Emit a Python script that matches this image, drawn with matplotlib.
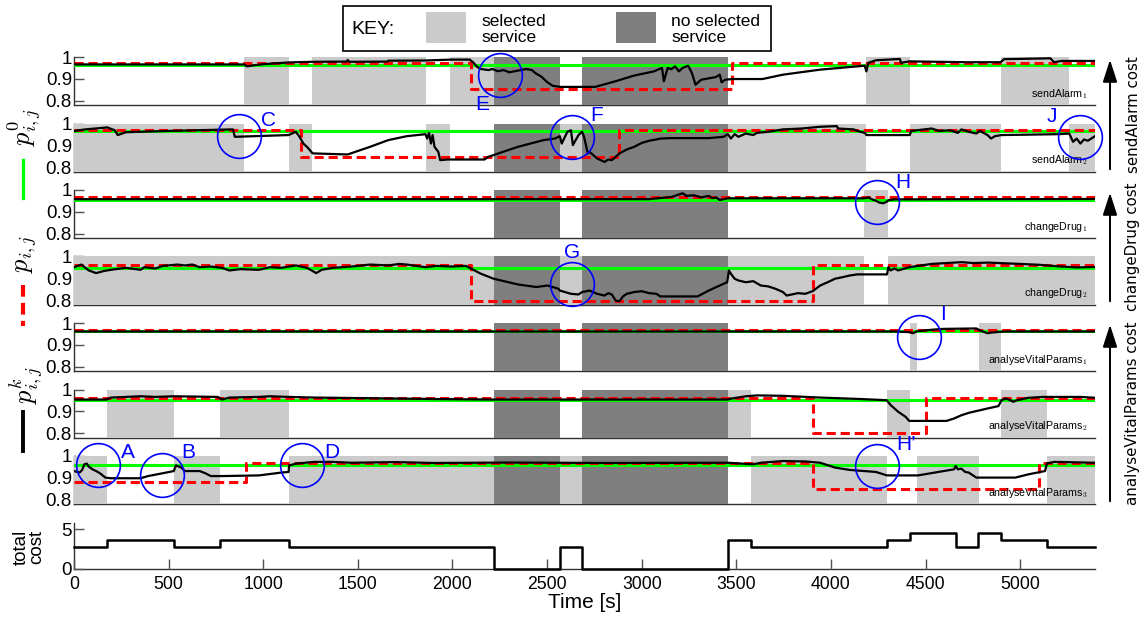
import matplotlib
matplotlib.use("Agg")
import matplotlib.pyplot as plt
from matplotlib.lines import Line2D
from matplotlib.patches import Rectangle, FancyArrowPatch

plt.rcParams['font.family'] = ['Liberation Sans', 'DejaVu Sans']
plt.rcParams['mathtext.fontset'] = 'cm'

W, H = 1143, 621
T_END = 5395

# periods with no selected service (total cost drops to 0)
no_service = [(2218, 2570), (2685, 3455)]

# periods where each concrete service is the selected one
sel_sendAlarm1 = [(899, 1134), (1257, 1860), (1989, 2218), (4184, 4415), (4897, 5258)]
sel_sendAlarm2 = [(0, 899), (1134, 1257), (1860, 1989), (2570, 2685), (3455, 4184),
                  (4415, 4897), (5258, T_END)]
sel_changeDrug1 = [(4177, 4303)]
sel_changeDrug2 = [(0, 2218), (2570, 2685), (3455, 4177), (4303, T_END)]
sel_analyse1 = [(4415, 4457), (4780, 4900)]
sel_analyse2 = [(172, 531), (774, 1134), (3455, 3575), (4294, 4415), (4900, 5140)]
sel_analyse3 = [(0, 172), (531, 774), (1134, 2218), (2570, 2685), (3575, 4294),
                (4457, 4780), (5140, T_END)]

# p0 (green, initial reliability)
p0_values = [0.965, 0.965, 0.955, 0.948, 0.962, 0.951, 0.959]

# p_ij (red dashed, required reliability) as (time, value) steps
req_sendAlarm1 = [(0, 0.972), (2100, 0.853), (3478, 0.972), (T_END, 0.972)]
req_sendAlarm2 = [(0, 0.972), (1202, 0.848), (2882, 0.972), (T_END, 0.972)]
req_changeDrug1 = [(0, 0.968), (T_END, 0.968)]
req_changeDrug2 = [(0, 0.959), (2100, 0.798), (3903, 0.959), (T_END, 0.959)]
req_analyse1 = [(0, 0.970), (T_END, 0.970)]
req_analyse2 = [(0, 0.963), (3903, 0.800), (4502, 0.963), (T_END, 0.963)]
req_analyse3 = [(0, 0.882), (909, 0.969), (3903, 0.847), (5100, 0.969), (T_END, 0.969)]

# pk_ij (black, estimated reliability)
est_sendAlarm1 = [
    (0, 0.966), (899, 0.966), (915, 0.957), (950, 0.962), (1000, 0.967), (1134, 0.975),
    (1256, 0.978), (1440, 0.979), (1446, 0.986), (1456, 0.978), (1655, 0.979), (1661, 0.983),
    (1860, 0.984), (1989, 0.988), (2091, 0.988), (2110, 0.975), (2130, 0.955), (2150, 0.945),
    (2190, 0.94), (2210, 0.945), (2240, 0.935), (2270, 0.94), (2300, 0.93), (2330, 0.935),
    (2360, 0.94), (2390, 0.945), (2420, 0.94), (2440, 0.925), (2470, 0.91), (2500, 0.885),
    (2530, 0.868), (2570, 0.863), (2754, 0.863), (2862, 0.889), (2960, 0.915), (3064, 0.934),
    (3107, 0.95), (3117, 0.889), (3137, 0.95), (3156, 0.944), (3176, 0.957), (3196, 0.934),
    (3216, 0.95), (3245, 0.96), (3265, 0.927), (3284, 0.873), (3314, 0.896), (3392, 0.908),
    (3412, 0.919), (3422, 0.884), (3441, 0.896), (3481, 0.899), (3638, 0.899), (3746, 0.919),
    (3942, 0.942), (4138, 0.957), (4178, 0.96), (4187, 0.934), (4197, 0.973), (4237, 0.985),
    (4364, 0.991), (4370, 0.973), (4413, 0.98), (4727, 0.976), (4896, 0.976), (4914, 0.99),
    (5159, 0.994), (5179, 0.976), (5219, 0.982), (T_END, 0.982)]
est_sendAlarm2 = [
    (0, 0.966), (59, 0.973), (176, 0.982), (215, 0.969), (231, 0.947), (274, 0.96),
    (500, 0.966), (840, 0.973), (850, 0.939), (1134, 0.947), (1172, 0.962), (1192, 0.939),
    (1212, 0.908), (1231, 0.893), (1261, 0.863), (1446, 0.858), (1564, 0.893), (1661, 0.924),
    (1759, 0.942), (1857, 0.951), (1866, 0.931), (1876, 0.957), (1886, 0.908), (1895, 0.947),
    (1905, 0.893), (1925, 0.870), (1935, 0.832), (1974, 0.835), (2169, 0.835), (2189, 0.847),
    (2345, 0.893), (2482, 0.924), (2541, 0.931), (2567, 0.942), (2577, 0.908), (2607, 0.962),
    (2626, 0.969), (2636, 0.901), (2666, 0.947), (2685, 0.962), (2695, 0.939), (2715, 0.863),
    (2724, 0.870), (2744, 0.855), (2764, 0.840), (2783, 0.832), (2803, 0.824), (2823, 0.835),
    (2842, 0.832), (2862, 0.847), (2882, 0.863), (2921, 0.881), (2960, 0.893), (3000, 0.911),
    (3039, 0.921), (3078, 0.927), (3098, 0.931), (3157, 0.933), (3354, 0.933), (3432, 0.939),
    (3455, 0.951), (3471, 0.931), (3491, 0.951), (3511, 0.939), (3550, 0.954), (3589, 0.947),
    (3609, 0.957), (3668, 0.962), (3746, 0.973), (3845, 0.977), (3943, 0.985), (4031, 0.988),
    (4037, 0.977), (4120, 0.973), (4139, 0.966), (4178, 0.957), (4188, 0.947), (4416, 0.947),
    (4424, 0.966), (4532, 0.977), (4571, 0.966), (4630, 0.969), (4670, 0.957), (4689, 0.973),
    (4728, 0.962), (4768, 0.954), (4787, 0.966), (4827, 0.947), (4846, 0.931), (4866, 0.942),
    (4901, 0.947), (5200, 0.951), (5259, 0.954), (5279, 0.916), (5298, 0.931), (5318, 0.908),
    (5337, 0.927), (5357, 0.921), (T_END, 0.942)]
est_changeDrug1 = [
    (0, 0.958), (3039, 0.958), (3157, 0.968), (3216, 0.985), (3236, 0.973), (3275, 0.976),
    (3314, 0.966), (3354, 0.973), (3373, 0.962), (3393, 0.966), (3412, 0.954), (3455, 0.962),
    (4178, 0.962), (4197, 0.966), (4217, 0.957), (4237, 0.951), (4256, 0.942), (4276, 0.939),
    (4296, 0.947), (4305, 0.954), (4335, 0.957), (T_END, 0.959)]
est_changeDrug2 = [
    (0, 0.951), (39, 0.963), (78, 0.936), (117, 0.924), (156, 0.933), (195, 0.939),
    (274, 0.948), (352, 0.939), (371, 0.951), (430, 0.945), (469, 0.957), (547, 0.963),
    (586, 0.959), (625, 0.963), (664, 0.951), (723, 0.954), (782, 0.948), (821, 0.936),
    (880, 0.942), (977, 0.939), (1036, 0.951), (1095, 0.948), (1173, 0.959), (1231, 0.948),
    (1280, 0.924), (1309, 0.939), (1368, 0.948), (1466, 0.954), (1564, 0.963), (1661, 0.959),
    (1720, 0.966), (1759, 0.963), (1857, 0.951), (1915, 0.957), (1993, 0.954), (2071, 0.957),
    (2110, 0.939), (2150, 0.921), (2218, 0.898), (2345, 0.872), (2443, 0.86), (2502, 0.867),
    (2560, 0.852), (2567, 0.844), (2626, 0.829), (2666, 0.826), (2685, 0.837), (2724, 0.844),
    (2764, 0.829), (2803, 0.821), (2823, 0.832), (2842, 0.826), (2862, 0.798), (2882, 0.795),
    (2901, 0.817), (2921, 0.829), (2960, 0.837), (3000, 0.841), (3039, 0.832), (3078, 0.829),
    (3098, 0.817), (3295, 0.817), (3354, 0.844), (3412, 0.867), (3451, 0.882), (3461, 0.936),
    (3471, 0.921), (3491, 0.898), (3511, 0.89), (3550, 0.882), (3589, 0.887), (3629, 0.867),
    (3668, 0.863), (3707, 0.852), (3746, 0.837), (3766, 0.821), (3825, 0.832), (3864, 0.829),
    (3903, 0.841), (3943, 0.867), (3982, 0.882), (4021, 0.898), (4060, 0.905), (4100, 0.913),
    (4139, 0.918), (4296, 0.918), (4303, 0.951), (4315, 0.936), (4335, 0.945), (4355, 0.936),
    (4413, 0.951), (4532, 0.966), (4690, 0.974), (4750, 0.970), (4830, 0.972), (5000, 0.966),
    (5100, 0.962), (5200, 0.955), (5300, 0.950), (T_END, 0.952)]
est_analyse1 = [
    (0, 0.961), (4335, 0.961), (4413, 0.958), (4433, 0.953), (4453, 0.962), (4532, 0.969),
    (4591, 0.973), (4768, 0.975), (4787, 0.966), (4827, 0.953), (4846, 0.956), (4885, 0.959),
    (4925, 0.961), (T_END, 0.961)]
est_analyse2 = [
    (0, 0.954), (172, 0.954), (195, 0.963), (274, 0.966), (352, 0.969), (430, 0.966),
    (527, 0.969), (760, 0.966), (782, 0.954), (821, 0.963), (977, 0.966), (1036, 0.969),
    (1134, 0.966), (1270, 0.963), (1564, 0.96), (1950, 0.956), (2218, 0.954), (3455, 0.954),
    (3471, 0.958), (3550, 0.969), (3609, 0.973), (3746, 0.971), (3943, 0.963), (4139, 0.957),
    (4294, 0.951), (4316, 0.928), (4355, 0.898), (4394, 0.875), (4413, 0.856), (4610, 0.856),
    (4650, 0.867), (4689, 0.882), (4728, 0.893), (4827, 0.913), (4885, 0.924), (4901, 0.951),
    (4925, 0.959), (4964, 0.944), (4984, 0.951), (5043, 0.962), (5121, 0.966), (5318, 0.966),
    (T_END, 0.962)]
est_analyse3 = [
    (0, 0.931), (29, 0.924), (43, 0.936), (55, 0.962), (68, 0.965), (78, 0.951), (98, 0.939),
    (117, 0.931), (137, 0.921), (166, 0.901), (195, 0.898), (352, 0.898), (391, 0.908),
    (469, 0.921), (527, 0.931), (539, 0.957), (567, 0.947), (586, 0.931), (664, 0.931),
    (694, 0.921), (723, 0.908), (782, 0.908), (977, 0.911), (1095, 0.924), (1134, 0.927),
    (1137, 0.957), (1173, 0.965), (1270, 0.973), (1368, 0.973), (1466, 0.969), (1700, 0.972),
    (1900, 0.968), (2300, 0.970), (2800, 0.968), (3455, 0.969), (3589, 0.962), (3629, 0.969),
    (3746, 0.977), (3864, 0.975), (3943, 0.969), (4021, 0.947), (4100, 0.936), (4237, 0.927),
    (4296, 0.911), (4459, 0.911), (4650, 0.939), (4659, 0.954), (4670, 0.939), (4689, 0.942),
    (4709, 0.927), (4728, 0.924), (4768, 0.901), (4974, 0.901), (5043, 0.916), (5131, 0.931),
    (5141, 0.966), (5180, 0.973), (T_END, 0.969)]

# total cost (step function)
cost_t = [0, 172, 531, 774, 1134, 2218, 2567, 2685, 3457, 3575, 4178, 4296, 4415, 4659,
          4777, 4899, 5140, T_END]
cost_v = [2.7, 3.66, 2.7, 3.66, 2.7, 0, 2.7, 0, 3.66, 2.7, 2.8, 3.66, 4.5, 2.7, 4.5, 3.66,
          2.7, 2.7]

service_names = ['sendAlarm', 'sendAlarm', 'changeDrug', 'changeDrug',
                 'analyseVitalParams', 'analyseVitalParams', 'analyseVitalParams']
service_index = ['1', '2', '1', '2', '1', '2', '3']
selections = [sel_sendAlarm1, sel_sendAlarm2, sel_changeDrug1, sel_changeDrug2,
              sel_analyse1, sel_analyse2, sel_analyse3]
required = [req_sendAlarm1, req_sendAlarm2, req_changeDrug1, req_changeDrug2,
            req_analyse1, req_analyse2, req_analyse3]
estimated = [est_sendAlarm1, est_sendAlarm2, est_changeDrug1, est_changeDrug2,
             est_analyse1, est_analyse2, est_analyse3]

# highlighted events: panel, time, value, letter
event_panel = [0, 1, 1, 1, 2, 3, 4, 6, 6, 6, 6]
event_t = [2253, 873, 2631, 5318, 4241, 2631, 4464, 127, 464, 1204, 4241]
event_v = [0.916, 0.943, 0.937, 0.937, 0.943, 0.872, 0.935, 0.958, 0.914, 0.958, 0.954]
event_label = ['E', 'C', 'F', 'J', 'H', 'G', 'I', 'A', 'B', 'D', 'H\u2019']
label_px = [(482, 105), (269, 121), (597, 116), (1052, 117), (903, 183), (572, 253),
            (943, 315), (128, 452), (188, 452), (332, 452), (906, 445)]

LIGHT = '#cbcbcb'
DARK = '#7f7f7f'
GREEN = '#00ff00'
RED = '#ff0000'
BLUE = '#0000ff'


def fx(x):
    return x / W


def fy(y):
    return 1 - y / H


def style_axes(ax):
    ax.spines['top'].set_visible(False)
    ax.spines['right'].set_visible(False)
    for s in ['left', 'bottom']:
        ax.spines[s].set_color('#303030')
        ax.spines[s].set_linewidth(1.0)
        ax.spines[s].set_zorder(0.5)
    ax.set_axisbelow(True)
    ax.tick_params(direction='in', length=7, width=1, color='#505050')


fig = plt.figure(figsize=(W / 100, H / 100), dpi=100)

panels = []
for i in range(7):
    top = 57 + 66.5 * i
    ax = fig.add_axes([fx(74), fy(top + 48), 1021 / W, 48 / H])
    style_axes(ax)
    for a, b in no_service:
        ax.axvspan(a, b, color=DARK, lw=0, zorder=1)
    for a, b in selections[i]:
        ax.axvspan(a, b, color=LIGHT, lw=0, zorder=1)
    ax.axhline(p0_values[i], color=GREEN, lw=2.2, zorder=2)
    rt, rv = zip(*required[i])
    ax.plot(rt, rv, color=RED, lw=2.2, ls=(0, (3, 1.6)), drawstyle='steps-post', zorder=3)
    bt, bv = zip(*estimated[i])
    ax.plot(bt, bv, color='black', lw=1.6, zorder=4)
    ax.set_xlim(0, T_END)
    ax.set_ylim(0.78, 1.0)
    ax.set_yticks([0.8, 0.9, 1.0])
    ax.set_yticklabels(['0.8', '0.9', '1'])
    ax.tick_params(axis='y', labelsize=13.5, pad=1.5)
    ax.tick_params(axis='x', bottom=False, labelbottom=False)
    ax.text(0.993, 0.17, service_names[i] + r'$_{\mathsf{' + service_index[i] + '}}$',
            transform=ax.transAxes, ha='right', va='baseline', fontsize=7.7, zorder=7)
    panels.append(ax)

for p, t, v in zip(event_panel, event_t, event_v):
    panels[p].plot([t], [v], 'o', ms=31.5, mfc='none', mec=BLUE, mew=1.2,
                   clip_on=False, zorder=8)
for lab, (x, y) in zip(event_label, label_px):
    fig.text(fx(x), fy(y), lab, color=BLUE, fontsize=15, ha='center', va='center')

# total cost panel
axc = fig.add_axes([fx(74), fy(568.7), 1021 / W, 46 / H])
style_axes(axc)
axc.plot(cost_t, cost_v, drawstyle='steps-post', color='black', lw=1.8, clip_on=False)
axc.set_xlim(0, T_END)
axc.set_ylim(0, 5.84)
axc.set_yticks([0, 5])
axc.set_xticks(range(0, 5001, 500))
axc.tick_params(axis='y', labelsize=13.5, pad=1.5)
axc.tick_params(axis='x', labelsize=12.7, pad=5)
fig.text(fx(585), fy(602), 'Time [s]', ha='center', va='center', fontsize=15)
fig.text(fx(29), fy(547), 'total\ncost', rotation=90, ha='center', va='center',
         fontsize=13.5, linespacing=0.9, multialignment='center')

# left-hand legend of the line types
fig.text(fx(24), fy(127), r'$p^{0}_{i,j}$', rotation=90, ha='center', va='center', fontsize=19)
fig.add_artist(Line2D([fx(23), fx(23)], [fy(160), fy(198)], color=GREEN, lw=2.4))
fig.text(fx(27), fy(254), r'$p_{i,j}$', rotation=90, ha='center', va='center', fontsize=19)
fig.add_artist(Line2D([fx(23), fx(23)], [fy(285), fy(326)], color=RED, lw=3,
                      ls=(0, (2.8, 1.5))))
fig.text(fx(26), fy(385), r'$p^{k}_{i,j}$', rotation=90, ha='center', va='center', fontsize=19)
fig.add_artist(Line2D([fx(23), fx(23)], [fy(412), fy(451)], color='black', lw=2.8))

# right-hand cost arrows
arrow_spans = [(172, 57, 'sendAlarm cost'), (304, 190, 'changeDrug cost'),
               (504, 322, 'analyseVitalParams cost')]
for y0, y1, txt in arrow_spans:
    fig.add_artist(FancyArrowPatch((fx(1110), fy(y0)), (fx(1110), fy(y1)),
                                   transform=fig.transFigure,
                                   arrowstyle='-|>,head_length=0.68,head_width=0.22',
                                   mutation_scale=20, lw=1.4, color='black'))
    fig.text(fx(1133), fy((y0 + y1) / 2), txt, rotation=90, ha='center', va='center',
             fontsize=10.8, family='DejaVu Sans')

# KEY box
fig.add_artist(Rectangle((fx(343), fy(51)), 428 / W, 45 / H, transform=fig.transFigure,
                         fill=False, ec='black', lw=1.2))
fig.add_artist(Rectangle((fx(426), fy(43)), 40 / W, 31 / H, transform=fig.transFigure,
                         fc=LIGHT, ec='none'))
fig.add_artist(Rectangle((fx(616), fy(43)), 40 / W, 31 / H, transform=fig.transFigure,
                         fc=DARK, ec='none'))
fig.text(fx(351), fy(29), 'KEY:', ha='left', va='center', fontsize=14)
fig.text(fx(481), fy(29.5), 'selected\nservice', ha='left', va='center', fontsize=12.5,
         linespacing=1.0)
fig.text(fx(671), fy(29.5), 'no selected\nservice', ha='left', va='center', fontsize=12.5,
         linespacing=1.0)

fig.savefig('out.png', dpi=100)
